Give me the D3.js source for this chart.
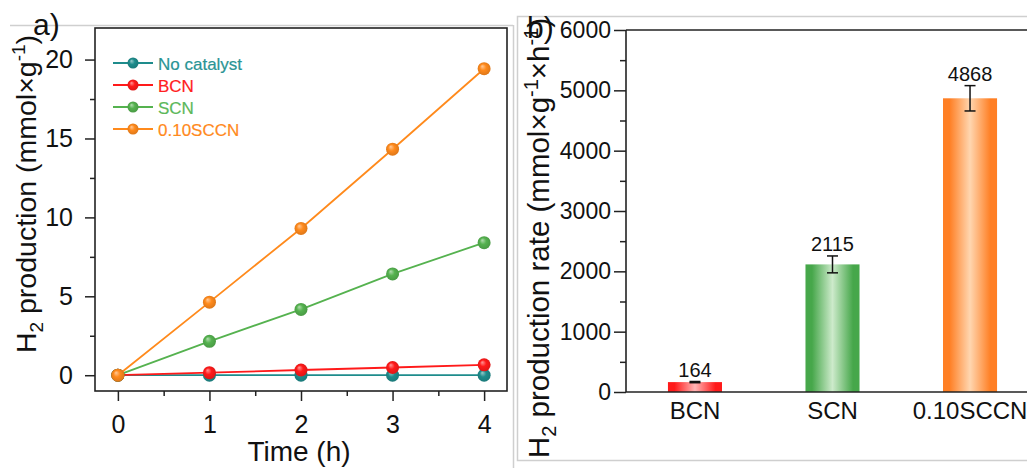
<!DOCTYPE html>
<html>
<head>
<meta charset="utf-8">
<script src="https://cdn.jsdelivr.net/npm/d3@7"></script>
<style>
html,body{margin:0;padding:0;background:#fff;}
svg{display:block;font-family:"Liberation Sans",Arial,sans-serif;}
</style>
</head>
<body>
<svg id="chart" width="1027" height="468"></svg>
<script>
// ---------- data ----------
const timeHours = [0, 1, 2, 3, 4];
const seriesNames = ["No catalyst", "BCN", "SCN", "0.10SCCN"];
const noCatalyst = [0, 0, 0, 0, 0];
const bcn = [0, 0.16, 0.33, 0.49, 0.66];
const scn = [0, 2.15, 4.17, 6.42, 8.4];
const sccn = [0, 4.63, 9.3, 14.32, 19.42];
const seriesColors = ["#1e8c8c", "#ff1a1a", "#55b24f", "#ff8a1c"];
const legendTextColors = ["#2a9494", "#ff2020", "#5cb85a", "#ff8a1c"];

const barCategories = ["BCN", "SCN", "0.10SCCN"];
const barValues = [164, 2115, 4868];
const barErrors = [10, 140, 210];
const barEdgeColors = ["#ff1a1a", "#46a74a", "#ff7f24"];
const barCenterColors = ["#ffb5b5", "#cdeacb", "#ffd6b0"];

const aYTicks = [0, 5, 10, 15, 20];
const aYMinor = [2.5, 7.5, 12.5, 17.5];
const aXTicks = [0, 1, 2, 3, 4];
const aXMinor = [0.5, 1.5, 2.5, 3.5];
const bYTicks = [0, 1000, 2000, 3000, 4000, 5000, 6000];
const bYMinor = [500, 1500, 2500, 3500, 4500, 5500];

const svg = d3.select("#chart");
const defs = svg.append("defs");

// ---------- outer gray frames ----------
const gray = "#cfcfcf";
svg.append("line").attr("x1",10).attr("x2",513).attr("y1",25.5).attr("y2",25.5).attr("stroke",gray).attr("stroke-width",1.5);
svg.append("line").attr("x1",513.5).attr("x2",513.5).attr("y1",25).attr("y2",468).attr("stroke",gray).attr("stroke-width",1.5);
svg.append("path").attr("d","M1027,16.5H517.5V460.5H1027").attr("fill","none").attr("stroke",gray).attr("stroke-width",1.5);

// ---------- panel a ----------
const ax = d3.scaleLinear().domain([-0.25, 4.25]).range([95, 507]);
const ay = d3.scaleLinear().domain([-1, 22]).range([391, 28]);
const ga = svg.append("g");

// marker gradients
seriesColors.forEach((c, i) => {
  const g = defs.append("radialGradient").attr("id","mk"+i).attr("cx","0.5").attr("cy","0.5").attr("r","0.55").attr("fx","0.35").attr("fy","0.3");
  g.append("stop").attr("offset","0%").attr("stop-color", d3.interpolateRgb(c, "#fff")(0.55));
  g.append("stop").attr("offset","45%").attr("stop-color", c);
  g.append("stop").attr("offset","100%").attr("stop-color", d3.interpolateRgb(c, "#000")(0.15));
});

const allSeries = [noCatalyst, bcn, scn, sccn];
const line = d3.line().x((d,i) => ax(timeHours[i])).y(d => ay(d));
allSeries.forEach((vals, i) => {
  ga.append("path").datum(vals).attr("d", line).attr("fill","none")
    .attr("stroke", seriesColors[i]).attr("stroke-width", 1.8);
  ga.selectAll(null).data(vals).enter().append("circle")
    .attr("cx", (d,j) => ax(timeHours[j])).attr("cy", d => ay(d)).attr("r", 6.5)
    .attr("fill", "url(#mk"+i+")");
});

// frame
ga.append("rect").attr("x",95).attr("y",28).attr("width",412).attr("height",363)
  .attr("fill","none").attr("stroke","#222").attr("stroke-width",1.6);

// y axis
const ayAxis = ga.append("g").attr("transform","translate(95,0)")
  .call(d3.axisLeft(ay).tickValues(aYTicks).tickSize(10).tickPadding(12).tickFormat(d3.format("d")));
ayAxis.select(".domain").remove();
ayAxis.selectAll("line").attr("stroke","#222").attr("stroke-width",1.5);
ayAxis.selectAll("text").attr("font-size",25).attr("fill","#111").attr("font-family","Liberation Sans, Arial, sans-serif");
const ayMin = ga.append("g").attr("transform","translate(95,0)")
  .call(d3.axisLeft(ay).tickValues(aYMinor).tickSize(5).tickFormat(""));
ayMin.select(".domain").remove();
ayMin.selectAll("line").attr("stroke","#222").attr("stroke-width",1.5);

// x axis
const axAxis = ga.append("g").attr("transform","translate(0,391)")
  .call(d3.axisBottom(ax).tickValues(aXTicks).tickSize(10).tickPadding(14).tickFormat(d3.format("d")));
axAxis.select(".domain").remove();
axAxis.selectAll("line").attr("stroke","#222").attr("stroke-width",1.5);
axAxis.selectAll("text").attr("font-size",25).attr("fill","#111").attr("font-family","Liberation Sans, Arial, sans-serif");
const axMin = ga.append("g").attr("transform","translate(0,391)")
  .call(d3.axisBottom(ax).tickValues(aXMinor).tickSize(5).tickFormat(""));
axMin.select(".domain").remove();
axMin.selectAll("line").attr("stroke","#222").attr("stroke-width",1.5);

// axis titles
ga.append("text").attr("x",299).attr("y",461).attr("text-anchor","middle")
  .attr("font-size",28).attr("fill","#111").text("Time (h)");
const tA = ga.append("text").attr("transform","translate(36,194) rotate(-90)")
  .attr("text-anchor","middle").attr("font-size",28.5).attr("fill","#111");
tA.append("tspan").text("H");
tA.append("tspan").attr("font-size",19).attr("dy",7).text("2");
tA.append("tspan").attr("dy",-7).text(" production (mmol×g");
tA.append("tspan").attr("font-size",19).attr("dy",-11).text("-1");
tA.append("tspan").attr("dy",11).text(")");

ga.append("text").attr("x",33).attr("y",35).attr("font-size",30).attr("fill","#111").text("a)");

// legend
const legY = [63, 85, 107, 129];
seriesNames.forEach((n, i) => {
  const lg = ga.append("g").attr("transform", `translate(113,${legY[i]})`);
  lg.append("line").attr("x1",0).attr("x2",40).attr("y1",0).attr("y2",0).attr("stroke",seriesColors[i]).attr("stroke-width",1.8);
  lg.append("circle").attr("cx",20).attr("cy",0).attr("r",5.5).attr("fill","url(#mk"+i+")");
  lg.append("text").attr("x",45).attr("y",6.5).attr("font-size",17).attr("fill",legendTextColors[i])
    .attr("stroke",legendTextColors[i]).attr("stroke-width",0.2).text(n);
});

// ---------- panel b ----------
const bx = d3.scaleBand().domain(barCategories).range([626, 1039]).paddingInner(0.607).paddingOuter(0.305);
const by = d3.scaleLinear().domain([0, 6000]).range([392, 30]);
const gb = svg.append("g");

barCategories.forEach((c, i) => {
  const g = defs.append("linearGradient").attr("id","bar"+i).attr("x1","0").attr("x2","1").attr("y1","0").attr("y2","0");
  g.append("stop").attr("offset","0%").attr("stop-color", barEdgeColors[i]);
  g.append("stop").attr("offset","12%").attr("stop-color", barEdgeColors[i]);
  g.append("stop").attr("offset","50%").attr("stop-color", barCenterColors[i]);
  g.append("stop").attr("offset","88%").attr("stop-color", barEdgeColors[i]);
  g.append("stop").attr("offset","100%").attr("stop-color", barEdgeColors[i]);
});

gb.selectAll(".bar").data(barValues).enter().append("rect")
  .attr("x", (d,i) => bx(barCategories[i])).attr("width", bx.bandwidth())
  .attr("y", d => by(d)).attr("height", d => by(0) - by(d))
  .attr("fill", (d,i) => "url(#bar"+i+")");

// error bars
barValues.forEach((v, i) => {
  const cx = bx(barCategories[i]) + bx.bandwidth()/2;
  const e = barErrors[i];
  gb.append("line").attr("x1",cx).attr("x2",cx).attr("y1",by(v+e)).attr("y2",by(v-e)).attr("stroke","#111").attr("stroke-width",1.5);
  [v+e, v-e].forEach(val => gb.append("line").attr("x1",cx-5.5).attr("x2",cx+5.5).attr("y1",by(val)).attr("y2",by(val)).attr("stroke","#111").attr("stroke-width",1.5));
  gb.append("text").attr("x",cx).attr("y",by(v+e)-5).attr("text-anchor","middle").attr("font-size",20).attr("fill","#111").text(v);
});

// axes
gb.append("line").attr("x1",626).attr("x2",1027).attr("y1",30).attr("y2",30).attr("stroke","#222").attr("stroke-width",1.6);
gb.append("line").attr("x1",626).attr("x2",1027).attr("y1",392).attr("y2",392).attr("stroke","#222").attr("stroke-width",1.6);
const byAxis = gb.append("g").attr("transform","translate(626,0)")
  .call(d3.axisLeft(by).tickValues(bYTicks).tickSize(12).tickPadding(3).tickFormat(d3.format("d")));
byAxis.select(".domain").attr("stroke","#222").attr("stroke-width",1.6).attr("d","M0,30V392");
byAxis.selectAll("line").attr("stroke","#222").attr("stroke-width",1.5);
byAxis.selectAll("text").attr("font-size",23).attr("fill","#111").attr("font-family","Liberation Sans, Arial, sans-serif");
const byMin = gb.append("g").attr("transform","translate(626,0)")
  .call(d3.axisLeft(by).tickValues(bYMinor).tickSize(6).tickFormat(""));
byMin.select(".domain").remove();
byMin.selectAll("line").attr("stroke","#222").attr("stroke-width",1.5);

const bxAxis = gb.append("g").attr("transform","translate(0,392)")
  .call(d3.axisBottom(bx).tickSize(0).tickPadding(10));
bxAxis.select(".domain").remove();
bxAxis.selectAll("text").attr("font-size",24).attr("fill","#111").attr("font-family","Liberation Sans, Arial, sans-serif");

const tB = gb.append("text").attr("transform","translate(549,238) rotate(-90)")
  .attr("text-anchor","middle").attr("font-size",29.5).attr("fill","#111");
tB.append("tspan").text("H");
tB.append("tspan").attr("font-size",20).attr("dy",7).text("2");
tB.append("tspan").attr("dy",-7).text(" production rate (mmol×g");
tB.append("tspan").attr("font-size",20).attr("dy",-11).text("-1");
tB.append("tspan").attr("dy",11).text("×h");
tB.append("tspan").attr("font-size",20).attr("dy",-11).text("-1");
tB.append("tspan").attr("dy",11).text(")");

gb.append("text").attr("x",527).attr("y",38).attr("font-size",30).attr("fill","#111").text("b)");
</script>
</body>
</html>
